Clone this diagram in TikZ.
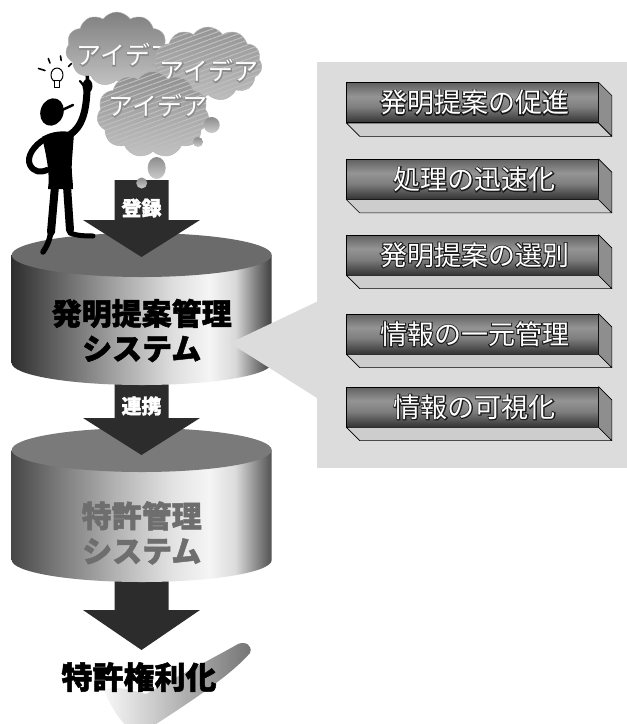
\documentclass[tikz,border=0pt]{standalone}
\usepackage{fontspec}
\newfontfamily\jp{Noto Sans CJK JP}
\newfontfamily\jpline{Noto Sans CJK JP}[FakeBold=7]
\newfontfamily\jpheavy{Noto Sans CJK JP}[BoldFeatures={FakeBold=1.6}]
\usetikzlibrary{calc,shapes.symbols,patterns.meta}

% ---------- colours ----------
\definecolor{panelgray}{HTML}{DCDCDC}
\definecolor{arrowfill}{HTML}{2C2C2C}
\definecolor{cylAtop}{HTML}{6B6B6B}
\definecolor{cylBtop}{HTML}{7A7A7A}
\definecolor{cylBtext}{HTML}{6E6E6E}
\definecolor{barbottom}{HTML}{CDCDCD}
\definecolor{barside}{HTML}{8E8E8E}

% ---------- shadings ----------
\pgfdeclarehorizontalshading{cylA}{100bp}{color(0bp)=(black!82); color(25bp)=(black!82);
  color(33bp)=(black!63); color(45bp)=(black!36); color(56bp)=(black!13); color(63bp)=(black!4);
  color(68bp)=(black!15); color(72bp)=(black!51); color(75bp)=(black!75); color(100bp)=(black!75)}
\pgfdeclarehorizontalshading{cylB}{100bp}{color(0bp)=(black!72); color(25bp)=(black!72);
  color(33bp)=(black!54); color(45bp)=(black!30); color(56bp)=(black!11); color(63bp)=(black!4);
  color(68bp)=(black!14); color(72bp)=(black!45); color(75bp)=(black!68); color(100bp)=(black!68)}
\pgfdeclareverticalshading{barv}{100bp}{color(0bp)=(black!80); color(25bp)=(black!80);
  color(45bp)=(black!50); color(58bp)=(black!42); color(75bp)=(black!62); color(100bp)=(black!62)}

% ---------- outlined text: a stroked copy under the filled glyphs ----------
\newcommand\outlined[3]{% #1 outline colour, #2 fill colour, #3 text
  \makebox[0pt][l]{\jpline\textcolor{#1}{#3}}\textcolor{#2}{#3}}

% ---------- block arrow from a start point down to a tip ----------
\newcommand\blockarrow[3]{% #1 start, #2 tip, #3 head length
  \fill[arrowfill] ($(#1)+(-27,0)$) -- ($(#2)+(-27,-#3)$) -- ($(#2)+(-58.5,-#3)$) -- (#2)
    -- ($(#2)+(58.5,-#3)$) -- ($(#2)+(27,-#3)$) -- ($(#1)+(27,0)$) -- cycle;}

\tikzset{
  barface/.style={shade, shading=barv, draw=black, line width=0.6pt,
    minimum width=251.6pt, minimum height=40pt, inner sep=0pt,
    font=\jp\fontsize{27}{30}\selectfont},
  barbase/.style={fill=barbottom, draw=black, line width=0.6pt, line join=round},
  barend/.style={fill=barside, draw=black, line width=0.6pt, line join=round},
  ideacloud/.style={cloud, cloud puffs=11, cloud puff arc=110, aspect=1.35,
    inner sep=0pt, draw=black!30, line width=0.4pt},
  stripes/.style={postaction={pattern={Lines[angle=20,distance=4.5pt,line width=1pt]},
    pattern color=white!75!black}},
  ideatext/.style={font=\jp\fontsize{25}{27}\selectfont},
  arrowlabel/.style={font=\jpheavy\bfseries\fontsize{20}{22}\selectfont, text=white},
  syslabel/.style={font=\jpheavy\bfseries\fontsize{30}{35}\selectfont, align=center},
  bubble/.style={top color=black!45, bottom color=black!20},
}

\begin{document}
\begin{tikzpicture}[x=1pt,y=-1pt]
\useasboundingbox (0,0) rectangle (627,724);
\fill[white] (0,0) rectangle (627,724);

% ---------- grey panel with the benefit bars ----------
\fill[panelgray] (316.7,62) rectangle (627,468);
\foreach \n/\y/\t in {1/102.7/発明提案の促進, 2/179.3/処理の迅速化, 3/255/発明提案の選別,
                      4/334/情報の一元管理, 5/407/情報の可視化} {
  \node[barface] (bar\n) at (472.5,\y) {\hspace*{4pt}\outlined{black!90}{white}{\t}};
  \draw[barbase] (bar\n.south west) -- (bar\n.south east) -- ++(13.3,13.3)
    -- ($(bar\n.south west)+(13.3,13.3)$) -- cycle;
  \draw[barend] (bar\n.north east) -- ++(13.3,13.3) -- ($(bar\n.south east)+(13.3,13.3)$)
    -- (bar\n.south east) -- cycle;
}

% ---------- anchor points of the flow ----------
\coordinate (ideaEnd) at (141.5,180);
\coordinate (sysAin)  at (141.5,257);
\coordinate (sysAout) at (141.5,372);
\coordinate (sysBin)  at (141.5,455);
\coordinate (sysBout) at (141.5,572);
\coordinate (grantIn) at (141.5,650);

% ---------- patent management system ----------
\blockarrow{sysBout}{grantIn}{40}
\shade[shading=cylB] (11.7,450) -- (11.7,560)
  arc[start angle=180, end angle=360, x radius=130pt, y radius=22pt] -- (271.7,450) -- cycle;
\fill[cylBtop] (141.7,450) ellipse [x radius=130pt, y radius=22pt];
\node[syslabel, text=cylBtext] (sysB) at (141.7,533) {特許管理\\システム};

\blockarrow{sysAout}{sysBin}{37}
\node[arrowlabel] (link) at (141.5,406) {連携};

% ---------- invention proposal management system ----------
\shade[shading=cylA] (11.7,255) -- (11.7,363)
  arc[start angle=180, end angle=360, x radius=130pt, y radius=22pt] -- (271.7,255) -- cycle;
\fill[cylAtop] (141.7,255) ellipse [x radius=130pt, y radius=22pt];
\node[syslabel] (sysA) at (141.7,330.5) {発明提案管理\\システム};

% callout from the panel to the system
\fill[panelgray] (230,343) -- (317,301.7) -- (317,398) -- cycle;

\blockarrow{ideaEnd}{sysAin}{37}
\node[arrowlabel] (reg) at (141.5,208) {登録};

% ---------- the person with the idea ----------
\begin{scope}[line cap=round, line join=round]
  % light bulb and its rays
  \fill[white, draw=black, line width=1pt] (57,75) ellipse [x radius=6pt, y radius=7pt];
  \fill[white, draw=black, line width=1pt] (54.5,80) rectangle (59.5,87);
  \draw[line width=1.6pt] (38.5,68.5) -- (45,70.5) (48.3,58.5) -- (50,63) (60.5,56) -- (61.2,60.5)
    (71.5,63.5) -- (68.5,66.5);
  % head and cap brim
  \fill[rotate around={-20:(52,112)}] (52,112) ellipse [x radius=11.5pt, y radius=14pt];
  \draw[line width=2.5pt] (60,111) -- (73,105);
  % torso
  \fill (42,137) .. controls (52,131) and (64,130) .. (74,133) -- (72,160)
    .. controls (71,172) and (73,180) .. (73,189) -- (48,189)
    .. controls (50,175) and (47,158) .. (42,137) -- cycle;
  % raised arm, hand and pointing finger
  \draw[line width=7pt] (66,137) .. controls (78,131) and (86,120) .. (87,90);
  \fill (87.5,86) ellipse [x radius=5pt, y radius=7pt];
  \draw[line width=3.5pt] (87.5,84) -- (87,68);
  \draw[line width=2.2pt] (84,86) -- (80,81);
  % arm on the hip
  \draw[line width=6pt] (45,139) .. controls (34,145) and (26,157) .. (30,165)
    .. controls (34,172) and (40,173) .. (47,170);
  % legs and feet
  \draw[line width=8pt] (55,186) -- (51,232);
  \draw[line width=5.5pt] (51,230) .. controls (50,240) and (47,246) .. (43,252);
  \draw[line width=8pt] (67,186) -- (70,230);
  \draw[line width=5pt] (70,233) .. controls (78,236) and (86,236) .. (93,236);
\end{scope}

% ---------- idea clouds ----------
\node[ideacloud, minimum width=102pt, minimum height=74pt, top color=black!50, bottom color=black!24]
  (cloudA) at (116.7,49) {};
\node[ideatext] (ideaA) at (126,55) {\outlined{black!45}{white}{アイデア}};
\node[ideacloud, stripes, minimum width=108pt, minimum height=74pt, top color=black!42, bottom color=black!26]
  (cloudB) at (208,64) {};
\node[ideatext] (ideaB) at (209,71) {\outlined{black!45}{white}{アイデア}};
\node[ideacloud, stripes, minimum width=112pt, minimum height=86pt, top color=black!44, bottom color=black!24]
  (cloudC) at (153,114.5) {};
\node[ideatext] (ideaC) at (158,106) {\outlined{black!45}{white}{アイデア}};

% thought bubbles trailing down to the arrow
\shade[bubble] (211.7,125) circle [radius=8pt];
\shade[bubble] (198,142) circle [radius=5pt];
\shade[bubble] (156.7,168) ellipse [x radius=9pt, y radius=11pt];
\shade[bubble] (141.7,183) circle [radius=5.5pt];

% ---------- result: patent granted ----------
\shade[left color=black!3, right color=black!55]
  (104,690) .. controls (110,705) and (118,718) .. (128,728) -- (150,728)
  .. controls (190,702) and (230,676) .. (250,653)
  .. controls (253,645) and (245,641) .. (238,644)
  .. controls (210,660) and (170,680) .. (146,694)
  .. controls (130,690) and (115,685) .. (104,690) -- cycle;
\node[font=\jpheavy\bfseries\fontsize{31}{34}\selectfont] (grant) at (139,677) {特許権利化};
\end{tikzpicture}
\end{document}
